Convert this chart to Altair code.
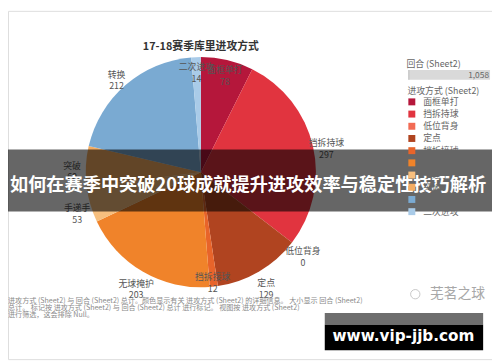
import altair as alt
import pandas as pd

# ---- data ----
categories = ["面框单打", "挡拆持球", "低位背身", "定点", "挡拆接球",
              "无球掩护", "手递手", "突破", "转换", "二次进攻"]
values = [78, 297, 0, 129, 12, 203, 53, 60, 212, 14]
colors = ["#b5173b", "#e1343f", "#f26b54", "#b04420", "#e8642a",
          "#f0832a", "#f7bf7e", "#f4ad62", "#7aaad2", "#a9cbe8"]
inside_labels = ["面框单打", "挡拆接球", "二次进攻"]

title_text = ["17-18赛季库里进攻方式"]
banner_text = ["如何在赛季中突破20球成就提升进攻效率与稳定性技巧解析"]
footnote_lines = [
    "进攻方式 (Sheet2) 与 回合 (Sheet2) 总计。颜色显示有关 进攻方式 (Sheet2) 的详细信息。 大小显示 回合 (Sheet2)",
    "总计。 标记按 进攻方式 (Sheet2) 与 回合 (Sheet2) 总计 进行标记。 视图按 进攻方式 (Sheet2)",
    "进行筛选，这会排除 Null。",
]
size_legend_title = ["回合 (Sheet2)"]
color_legend_title = "进攻方式 (Sheet2)"
watermark_text = ["芜茗之球"]
site_text = ["www.vip-jjb.com"]

FONT = "Noto Sans CJK SC"

df = pd.DataFrame({"category": categories, "value": values,
                   "idx": list(range(len(categories)))})

CX, CY, R = 196, 164, 117

base = alt.Chart(df).encode(
    theta=alt.Theta("value:Q", stack=True),
    order=alt.Order("idx:Q"),
)

arcs = base.mark_arc(outerRadius=R).encode(
    x=alt.value(CX), y=alt.value(CY),
    color=alt.Color(
        "category:N",
        scale=alt.Scale(domain=categories, range=colors),
        sort=categories,
        legend=alt.Legend(
            title=color_legend_title, orient="none", legendX=406, legendY=77,
            titleFont=FONT, titleFontSize=9, titleFontWeight="normal",
            titleColor="#666", titlePadding=2,
            labelFont=FONT, labelFontSize=9, labelColor="#666",
            symbolType="square", symbolSize=50, symbolStrokeWidth=0,
            rowPadding=2.4, labelOffset=7,
        ),
    ),
)

is_inside = alt.FieldOneOfPredicate(field="category", oneOf=inside_labels)

labels_out = base.mark_text(
    radius=131, lineBreak="\n", font=FONT, fontSize=9, color="#555",
    lineHeight=12, align="center", baseline="middle",
).encode(
    x=alt.value(CX), y=alt.value(CY),
    text="label:N",
    opacity=alt.condition(is_inside, alt.value(0), alt.value(1)),
).transform_calculate(label="datum.category + '\\n' + datum.value")

labels_in = base.mark_text(
    radius=107, lineBreak="\n", font=FONT, fontSize=9, color="#555",
    lineHeight=12, align="center", baseline="middle",
).encode(
    x=alt.value(CX), y=alt.value(CY),
    text="label:N",
    opacity=alt.condition(is_inside, alt.value(1), alt.value(0)),
).transform_calculate(label="datum.category + '\\n' + datum.value")

title = alt.Chart(pd.DataFrame({"t": title_text})).mark_text(
    font=FONT, fontSize=11, fontWeight="bold", color="#333",
).encode(x=alt.value(196), y=alt.value(37), text="t:N")

# size legend (回合 total)
size_title = alt.Chart(pd.DataFrame({"t": size_legend_title})).mark_text(
    font=FONT, fontSize=9, color="#666", align="left",
).encode(x=alt.value(405), y=alt.value(54), text="t:N")

size_bar = alt.Chart(df).transform_aggregate(total="sum(value)").mark_rect(
    color="#d9d9d9",
).encode(x=alt.value(407), x2=alt.value(490), y=alt.value(60), y2=alt.value(70))

size_edge = alt.Chart(df).transform_aggregate(total="sum(value)").mark_rect(
    color="#bdbdbd",
).encode(x=alt.value(407), x2=alt.value(408), y=alt.value(60), y2=alt.value(70))

size_val = alt.Chart(df).transform_aggregate(total="sum(value)").mark_text(
    font=FONT, fontSize=8.5, color="#666", align="right",
).encode(x=alt.value(489), y=alt.value(65), text=alt.Text("total:Q", format=","))

# footnote
foot = alt.Chart(pd.DataFrame({"t": footnote_lines, "i": [0, 1, 2]})).mark_text(
    font=FONT, fontSize=7.2, color="#8a8a8a", align="left", baseline="middle",
).encode(
    x=alt.value(0),
    y=alt.Y("i:O", axis=None, scale=alt.Scale(domain=[0, 1, 2], range=[291, 313])),
    text="t:N",
)

# watermark
wm = alt.Chart(pd.DataFrame({"t": watermark_text})).mark_text(
    font=FONT, fontSize=14, color="#a8a8a8", align="left",
).encode(x=alt.value(429), y=alt.value(288), text="t:N")

wm_icon = alt.Chart(pd.DataFrame({"t": ["a"]})).mark_point(
    shape="circle", filled=False, color="#b0b0b0", size=90, strokeWidth=1,
).encode(x=alt.value(414), y=alt.value(288))

# overlay banner
banner = alt.Chart(pd.DataFrame({"t": banner_text})).mark_rect(
    color="#000000", opacity=0.6,
).encode(x=alt.value(0), x2=alt.value(492), y=alt.value(141), y2=alt.value(204))

banner_t = alt.Chart(pd.DataFrame({"t": banner_text})).mark_text(
    font=FONT, fontSize=18.5, fontWeight="bold", color="white",
    align="center", baseline="middle",
).encode(x=alt.value(244), y=alt.value(177), text="t:N")

# site box
box_gray = alt.Chart(pd.DataFrame({"t": site_text})).mark_rect(
    color="#6e6e6e",
).encode(x=alt.value(322), x2=alt.value(483), y=alt.value(307), y2=alt.value(319))

box_black = alt.Chart(pd.DataFrame({"t": site_text})).mark_rect(
    color="#000000",
).encode(x=alt.value(322), x2=alt.value(483), y=alt.value(319), y2=alt.value(345))

box_t = alt.Chart(pd.DataFrame({"t": site_text})).mark_text(
    font="DejaVu Sans", fontSize=15.5, fontWeight="bold", color="white",
    align="center", baseline="middle",
).encode(x=alt.value(402), y=alt.value(331), text="t:N")

chart = alt.layer(
    arcs, labels_out, labels_in, title,
    size_title, size_bar, size_edge, size_val,
    foot, wm, wm_icon,
    banner, banner_t,
    box_gray, box_black, box_t,
).properties(
    width=492, height=354,
    autosize=alt.AutoSizeParams(type="none"),
    padding=0,
).configure_view(stroke=None).configure(background="white")

chart.save("out.html", embed_options={"renderer": "svg", "actions": False})
